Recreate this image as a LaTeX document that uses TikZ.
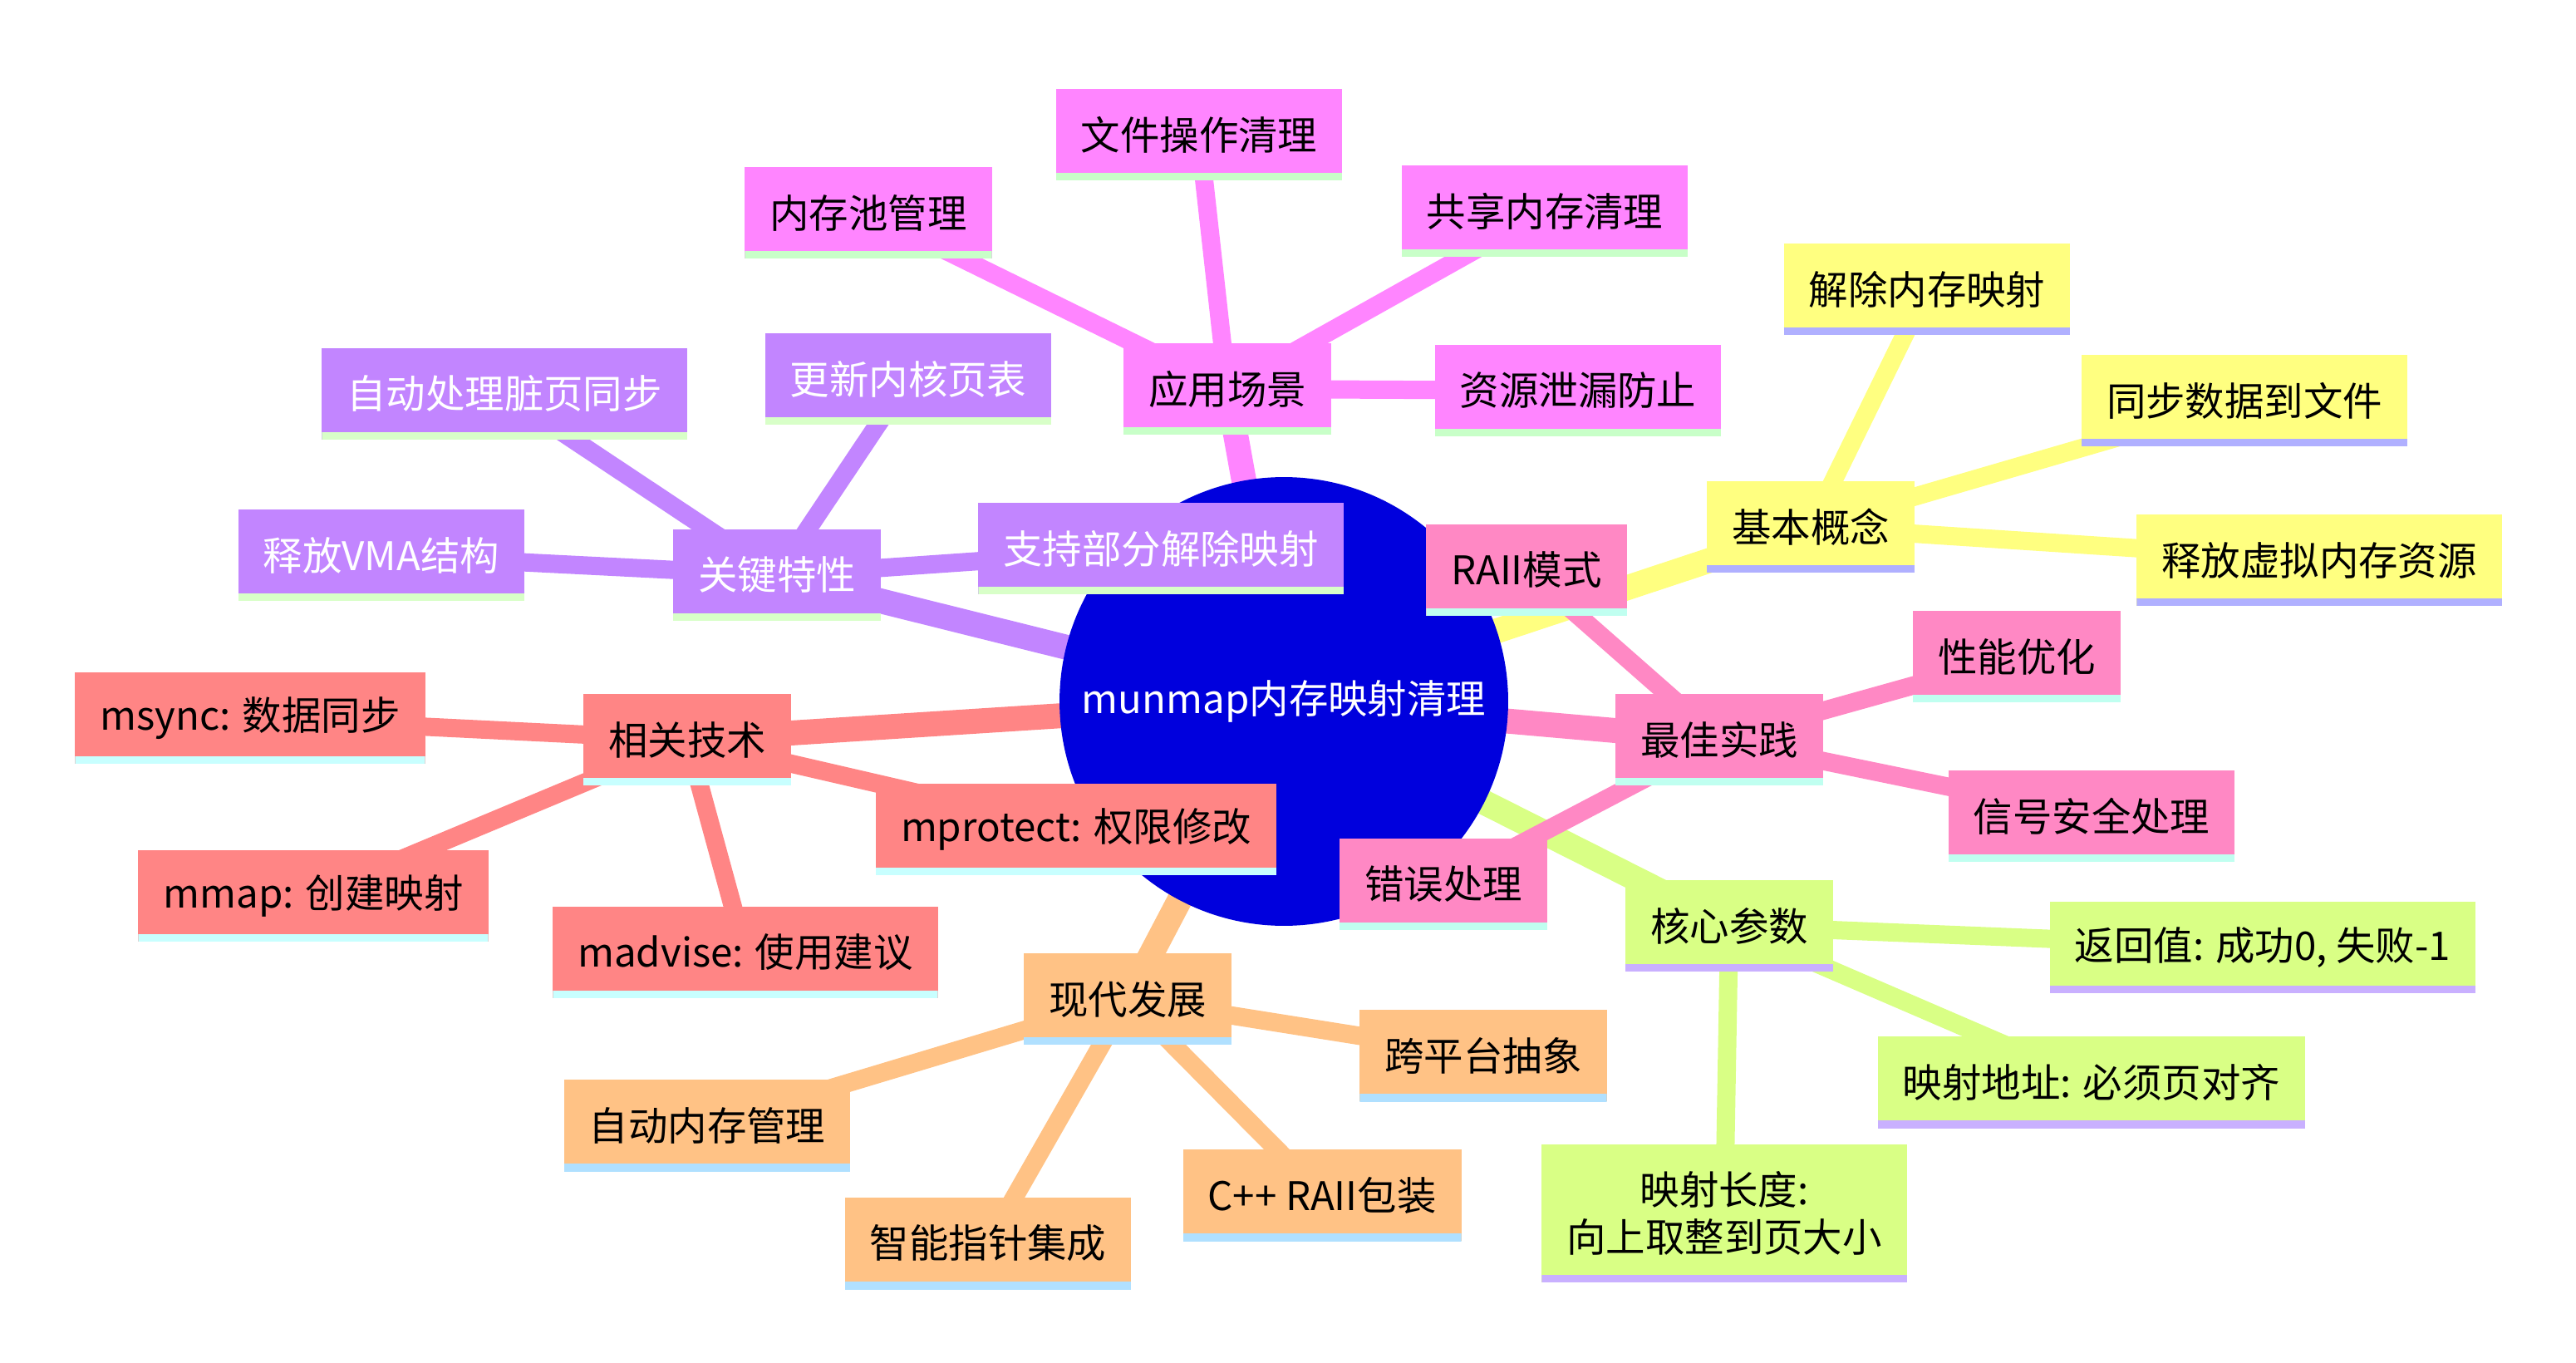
\documentclass[tikz,border=0pt]{standalone}
\usepackage{fontspec}
\setmainfont{Noto Sans CJK SC}
\definecolor{cP}{HTML}{FF85FF}\definecolor{sP}{HTML}{C8FFC8}
\definecolor{cY}{HTML}{FFFF80}\definecolor{sY}{HTML}{B0B0FF}
\definecolor{cH}{HTML}{FF88C4}\definecolor{sH}{HTML}{C0FFF0}
\definecolor{cG}{HTML}{D9FF85}\definecolor{sG}{HTML}{C9B0FF}
\definecolor{cO}{HTML}{FFC285}\definecolor{sO}{HTML}{B0E0FF}
\definecolor{cS}{HTML}{FF8585}\definecolor{sS}{HTML}{C8FFFF}
\definecolor{cV}{HTML}{C285FF}\definecolor{sV}{HTML}{D8FFC8}
\definecolor{root}{HTML}{0000DD}
\tikzset{
 bx/.style 2 args={fill=#1,minimum height=1.1cm,inner xsep=0.3cm,font=\fontsize{13.5}{16}\selectfont,
  path picture={\draw[line width=5pt,#2] (path picture bounding box.south west) -- (path picture bounding box.south east);}},
 mainln/.style={line width=0.3cm,#1},
 subln/.style={line width=0.22cm,#1}
}
\begin{document}
\begin{tikzpicture}[x=0.02cm,y=-0.02cm]
\useasboundingbox (0,0) rectangle (1550,820);
\begin{scope}[xshift=-0.15cm,yshift=0.06cm]
\coordinate (r) at (780,425);
\foreach \n/\x/\y in {A/746/237,B/1097/320,C/1042/448,D/1048/560,E/686/604,F/421/448,G/475/349}{\coordinate (\n) at (\x,\y);}
\foreach \n/\x/\y in {A1/729/84,A2/530/131,A3/937/130,A4/957/238,B1/1167/177,B2/1358/244,B3/1403/340,C1/926/346,C2/1221/398,C3/1266/494,C4/876/535,D1/1369/573,D2/1266/654,D3/1045/733,E1/900/638,E2/803/722,E3/602/751,E4/433/680,F1/158/435,F2/196/542,F3/456/576,F4/655/502,G1/311/240,G2/554/231,G3/237/337,G4/706/333}{\coordinate (\n) at (\x,\y);}
\draw[mainln=cP] (r)--(A); \draw[mainln=cY] (r)--(B); \draw[mainln=cH] (r)--(C);
\draw[mainln=cG] (r)--(D); \draw[mainln=cO] (r)--(E); \draw[mainln=cS] (r)--(F); \draw[mainln=cV] (r)--(G);
\foreach \i in {1,2,3,4}{\draw[subln=cP] (A)--(A\i); \draw[subln=cH] (C)--(C\i); \draw[subln=cO] (E)--(E\i); \draw[subln=cS] (F)--(F\i); \draw[subln=cV] (G)--(G\i);}
\foreach \i in {1,2,3}{\draw[subln=cY] (B)--(B\i); \draw[subln=cG] (D)--(D\i);}
\node[circle,fill=root,minimum size=5.4cm,text=white,font=\fontsize{13.5}{16}\selectfont] (rootn) at (r) {munmap内存映射清理};
\node[bx={cP}{sP}] (nA) at (A) {应用场景};
\node[bx={cP}{sP}] (nA1) at (A1) {文件操作清理};
\node[bx={cP}{sP}] (nA2) at (A2) {内存池管理};
\node[bx={cP}{sP}] (nA3) at (A3) {共享内存清理};
\node[bx={cP}{sP}] (nA4) at (A4) {资源泄漏防止};
\node[bx={cY}{sY}] (nB) at (B) {基本概念};
\node[bx={cY}{sY}] (nB1) at (B1) {解除内存映射};
\node[bx={cY}{sY}] (nB2) at (B2) {同步数据到文件};
\node[bx={cY}{sY}] (nB3) at (B3) {释放虚拟内存资源};
\node[bx={cH}{sH}] (nC) at (C) {最佳实践};
\node[bx={cH}{sH}] (nC1) at (C1) {RAII模式};
\node[bx={cH}{sH}] (nC2) at (C2) {性能优化};
\node[bx={cH}{sH}] (nC3) at (C3) {信号安全处理};
\node[bx={cH}{sH}] (nC4) at (C4) {错误处理};
\node[bx={cG}{sG}] (nD) at (D) {核心参数};
\node[bx={cG}{sG}] (nD1) at (D1) {返回值: 成功0, 失败-1};
\node[bx={cG}{sG}] (nD2) at (D2) {映射地址: 必须页对齐};
\node[bx={cG}{sG},align=center,minimum height=1.66cm] (nD3) at (D3) {映射长度:\\向上取整到页大小};
\node[bx={cO}{sO}] (nE) at (E) {现代发展};
\node[bx={cO}{sO}] (nE1) at (E1) {跨平台抽象};
\node[bx={cO}{sO}] (nE2) at (E2) {C++ RAII包装};
\node[bx={cO}{sO}] (nE3) at (E3) {智能指针集成};
\node[bx={cO}{sO}] (nE4) at (E4) {自动内存管理};
\node[bx={cS}{sS}] (nF) at (F) {相关技术};
\node[bx={cS}{sS}] (nF1) at (F1) {msync: 数据同步};
\node[bx={cS}{sS}] (nF2) at (F2) {mmap: 创建映射};
\node[bx={cS}{sS}] (nF3) at (F3) {madvise: 使用建议};
\node[bx={cS}{sS}] (nF4) at (F4) {mprotect: 权限修改};
\node[bx={cV}{sV},text=white] (nG) at (G) {关键特性};
\node[bx={cV}{sV},text=white] (nG1) at (G1) {自动处理脏页同步};
\node[bx={cV}{sV},text=white] (nG2) at (G2) {更新内核页表};
\node[bx={cV}{sV},text=white] (nG3) at (G3) {释放VMA结构};
\node[bx={cV}{sV},text=white] (nG4) at (G4) {支持部分解除映射};
\end{scope}
\end{tikzpicture}
\end{document}
